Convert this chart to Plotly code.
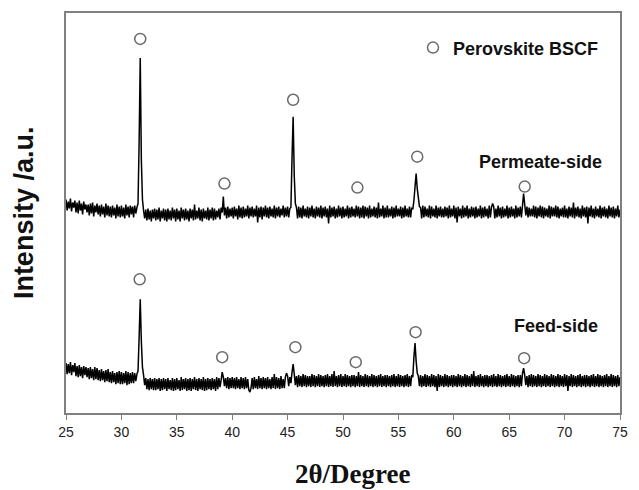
import plotly.graph_objects as go

# 2-theta scan grid (degrees): rows start at each integer degree, 10 readings per row (0.1 deg step)
row_start_deg = list(range(25, 75))
readings_per_row = 10
final_deg = 75.0

# Permeate-side intensity (a.u.), one row per degree 25..74, then the value at 75.0
permeate_rows = [
    [214, 203, 212, 205, 215, 202, 211, 206, 213, 201],
    [211, 200, 213, 203, 210, 199, 212, 204, 209, 201],
    [209, 198, 210, 200, 211, 197, 208, 201, 210, 199],
    [208, 197, 209, 199, 207, 196, 210, 198, 208, 197],
    [207, 196, 208, 198, 206, 195, 209, 197, 207, 196],
    [208, 197, 206, 195, 209, 198, 207, 196, 208, 199],
    [207, 196, 208, 200, 206, 210, 272, 356, 254, 214],
    [203, 195, 204, 193, 205, 194, 203, 192, 204, 195],
    [205, 193, 204, 194, 206, 192, 203, 195, 205, 193],
    [204, 192, 205, 194, 203, 193, 206, 195, 204, 192],
    [205, 194, 203, 192, 206, 195, 204, 193, 205, 194],
    [203, 192, 205, 195, 204, 193, 209, 194, 203, 195],
    [206, 193, 204, 192, 205, 195, 203, 194, 206, 193],
    [204, 195, 206, 193, 205, 194, 203, 196, 205, 194],
    [206, 201, 217, 198, 206, 195, 207, 196, 205, 197],
    [206, 195, 207, 197, 205, 194, 208, 196, 206, 195],
    [207, 196, 205, 197, 208, 195, 206, 197, 207, 196],
    [205, 197, 208, 191, 206, 196, 207, 194, 206, 197],
    [208, 196, 206, 195, 207, 197, 205, 196, 208, 195],
    [206, 197, 207, 196, 205, 198, 208, 196, 206, 197],
    [207, 196, 205, 206, 256, 297, 238, 210, 206, 195],
    [207, 196, 206, 195, 208, 197, 205, 196, 207, 195],
    [206, 197, 208, 196, 205, 195, 207, 197, 206, 196],
    [208, 195, 206, 197, 207, 196, 205, 190, 208, 196],
    [206, 197, 207, 195, 205, 196, 208, 197, 206, 195],
    [207, 196, 205, 197, 208, 195, 206, 196, 207, 197],
    [205, 196, 208, 197, 207, 195, 206, 196, 208, 195],
    [207, 197, 206, 195, 208, 196, 205, 197, 207, 196],
    [206, 195, 211, 196, 205, 197, 208, 195, 206, 196],
    [208, 196, 205, 197, 207, 195, 206, 196, 208, 197],
    [205, 197, 207, 195, 206, 196, 208, 197, 205, 196],
    [207, 196, 206, 204, 213, 232, 240, 225, 212, 207],
    [206, 195, 208, 196, 207, 197, 205, 196, 208, 195],
    [207, 197, 205, 196, 208, 195, 206, 197, 207, 196],
    [205, 196, 207, 197, 206, 195, 208, 196, 205, 197],
    [208, 195, 206, 191, 207, 197, 205, 195, 208, 196],
    [206, 197, 208, 195, 205, 196, 207, 197, 206, 195],
    [207, 196, 205, 197, 208, 195, 206, 196, 207, 197],
    [205, 195, 208, 196, 206, 210, 207, 195, 205, 196],
    [208, 197, 206, 195, 207, 196, 205, 197, 208, 195],
    [206, 196, 207, 197, 205, 195, 208, 196, 206, 197],
    [207, 196, 208, 220, 209, 198, 207, 196, 206, 197],
    [205, 197, 208, 196, 207, 195, 206, 197, 208, 196],
    [207, 195, 206, 197, 205, 196, 208, 195, 207, 197],
    [206, 197, 208, 196, 207, 195, 205, 197, 206, 196],
    [208, 196, 205, 195, 207, 197, 206, 196, 211, 195],
    [206, 197, 207, 196, 205, 195, 208, 197, 206, 196],
    [207, 190, 206, 197, 208, 196, 205, 195, 207, 197],
    [205, 196, 208, 195, 206, 197, 207, 196, 205, 195],
    [208, 197, 206, 196, 207, 195, 205, 197, 208, 196],
]
permeate_last = 204

# Feed-side intensity (a.u.)
feed_rows = [
    [50, 39, 49, 40, 51, 38, 48, 41, 50, 37],
    [47, 36, 48, 37, 46, 35, 47, 38, 46, 36],
    [45, 34, 46, 35, 44, 33, 46, 34, 45, 33],
    [43, 32, 44, 33, 42, 31, 43, 32, 44, 31],
    [41, 30, 42, 31, 40, 29, 41, 30, 42, 29],
    [41, 29, 40, 30, 42, 28, 41, 29, 40, 30],
    [41, 30, 40, 32, 39, 42, 76, 114, 72, 46],
    [38, 28, 35, 24, 34, 23, 35, 24, 34, 23],
    [35, 23, 34, 24, 35, 22, 34, 23, 35, 24],
    [34, 22, 35, 24, 33, 23, 35, 22, 34, 23],
    [35, 24, 33, 22, 36, 23, 34, 24, 35, 22],
    [34, 23, 35, 22, 34, 24, 36, 23, 34, 22],
    [35, 24, 34, 23, 36, 22, 34, 23, 35, 24],
    [34, 23, 35, 24, 34, 22, 36, 24, 35, 26],
    [33, 41, 36, 27, 35, 25, 36, 24, 35, 25],
    [36, 25, 35, 24, 36, 25, 34, 24, 36, 25],
    [35, 24, 36, 25, 34, 23, 21, 25, 35, 24],
    [36, 25, 34, 24, 37, 25, 35, 24, 36, 25],
    [35, 24, 36, 25, 34, 24, 36, 25, 39, 24],
    [36, 25, 35, 24, 37, 25, 34, 25, 36, 40],
    [37, 27, 36, 30, 41, 49, 39, 28, 37, 26],
    [38, 27, 37, 26, 39, 27, 38, 26, 37, 27],
    [37, 26, 39, 27, 38, 26, 37, 27, 39, 26],
    [38, 27, 37, 26, 38, 27, 39, 26, 37, 27],
    [39, 26, 42, 27, 37, 26, 38, 27, 39, 26],
    [37, 27, 39, 26, 38, 27, 37, 26, 38, 27],
    [38, 26, 37, 27, 41, 26, 38, 27, 37, 26],
    [39, 27, 38, 26, 37, 27, 39, 26, 38, 27],
    [37, 26, 38, 27, 39, 26, 37, 27, 38, 26],
    [38, 27, 37, 26, 38, 27, 39, 26, 37, 27],
    [39, 26, 38, 27, 37, 26, 38, 27, 39, 26],
    [37, 27, 38, 36, 56, 70, 52, 40, 37, 27],
    [38, 26, 37, 27, 39, 26, 38, 27, 37, 26],
    [39, 27, 38, 26, 37, 22, 39, 26, 38, 27],
    [37, 26, 39, 27, 38, 26, 37, 27, 38, 26],
    [38, 27, 37, 26, 39, 27, 38, 26, 37, 27],
    [39, 26, 38, 27, 37, 26, 39, 27, 42, 26],
    [37, 27, 38, 26, 39, 27, 37, 26, 38, 27],
    [38, 26, 37, 27, 38, 26, 39, 27, 37, 26],
    [39, 27, 38, 26, 37, 27, 38, 26, 39, 27],
    [37, 26, 39, 27, 38, 26, 37, 27, 38, 26],
    [38, 27, 40, 45, 38, 28, 37, 26, 38, 27],
    [39, 26, 38, 27, 37, 26, 39, 27, 38, 26],
    [37, 27, 39, 26, 38, 27, 37, 26, 39, 27],
    [38, 26, 37, 27, 39, 26, 38, 27, 37, 26],
    [39, 27, 38, 22, 37, 27, 39, 26, 38, 27],
    [37, 26, 38, 27, 39, 26, 37, 27, 38, 26],
    [38, 27, 37, 26, 38, 27, 39, 26, 37, 27],
    [39, 26, 38, 27, 37, 26, 38, 27, 39, 26],
    [37, 27, 39, 26, 38, 27, 37, 26, 38, 27],
]
feed_last = 36

# Perovskite BSCF reflection markers (2theta, intensity position of circle)
permeate_marker_2theta = [31.7, 39.3, 45.5, 51.3, 56.7, 66.4]
permeate_marker_y = [375, 230, 314, 226, 257, 227]
feed_marker_2theta = [31.65, 39.1, 45.7, 51.15, 56.55, 66.35]
feed_marker_y = [134, 56, 66, 51, 81, 55]

x_ticks = [25, 30, 35, 40, 45, 50, 55, 60, 65, 70, 75]

# ---- assemble the scan ----
two_theta = []
for d in row_start_deg:
    for i in range(readings_per_row):
        two_theta.append(round(d + i / readings_per_row, 1))
two_theta.append(final_deg)

permeate = [v for row in permeate_rows for v in row] + [permeate_last]
feed = [v for row in feed_rows for v in row] + [feed_last]

fig = go.Figure()
fig.add_trace(go.Scatter(x=two_theta, y=permeate, mode="lines",
                         line=dict(color="black", width=1.5), showlegend=False,
                         hoverinfo="skip"))
fig.add_trace(go.Scatter(x=two_theta, y=feed, mode="lines",
                         line=dict(color="black", width=1.5), showlegend=False,
                         hoverinfo="skip"))
fig.add_trace(go.Scatter(x=permeate_marker_2theta + feed_marker_2theta,
                         y=permeate_marker_y + feed_marker_y,
                         mode="markers", name="<b>Perovskite BSCF</b>",
                         marker=dict(symbol="circle-open", size=11, color="#6a6a6a",
                                     line=dict(width=1.5)),
                         showlegend=True))

L, R, T, B = 66, 11, 12, 77
W, H = 639, 490
PW, PH = W - L - R, H - T - B


def px_x(px):
    return (px - L) / PW


def px_y(py):
    return (H - B - py) / PH


fig.update_layout(
    width=W, height=H,
    margin=dict(l=L, r=R, t=T, b=B),
    paper_bgcolor="white", plot_bgcolor="white",
    font=dict(family="Liberation Sans, Arial, sans-serif", color="#111"),
    legend=dict(x=px_x(418), y=px_y(47), xanchor="left", yanchor="middle",
                bgcolor="rgba(0,0,0,0)", font=dict(size=18, color="#111"),
                borderwidth=0),
    xaxis=dict(range=[25, 75], tickvals=x_ticks, ticks="outside", ticklen=5,
               tickcolor="#808080", tickwidth=1.2, showline=True, linecolor="#808080",
               linewidth=1.5, mirror=True, showgrid=False, zeroline=False,
               tickfont=dict(size=14, color="#222")),
    yaxis=dict(range=[0, 401], showticklabels=False, ticks="", showline=True,
               linecolor="#808080", linewidth=1.5, mirror=True, showgrid=False,
               zeroline=False),
    annotations=[
        dict(text="<b>Permeate-side</b>", xref="paper", yref="paper",
             x=px_x(547), y=px_y(161), xanchor="center", yanchor="middle",
             showarrow=False, font=dict(size=18, color="#111")),
        dict(text="<b>Feed-side</b>", xref="paper", yref="paper",
             x=px_x(563), y=px_y(326), xanchor="center", yanchor="middle",
             showarrow=False, font=dict(size=18, color="#111")),
        dict(text="<b>Intensity /a.u.</b>", xref="paper", yref="paper",
             x=px_x(23), y=px_y(212), xanchor="center", yanchor="middle",
             textangle=-90, showarrow=False, font=dict(size=27, color="#111")),
        dict(text="<b>2θ/Degree</b>", xref="paper", yref="paper",
             x=px_x(357), y=px_y(474), xanchor="center", yanchor="middle",
             showarrow=False,
             font=dict(size=27, color="#111",
                       family="Liberation Serif, Times New Roman, serif")),
    ],
)

fig.write_html("out.html", config={"displayModeBar": False},
               post_script="document.body.style.margin='0';")
